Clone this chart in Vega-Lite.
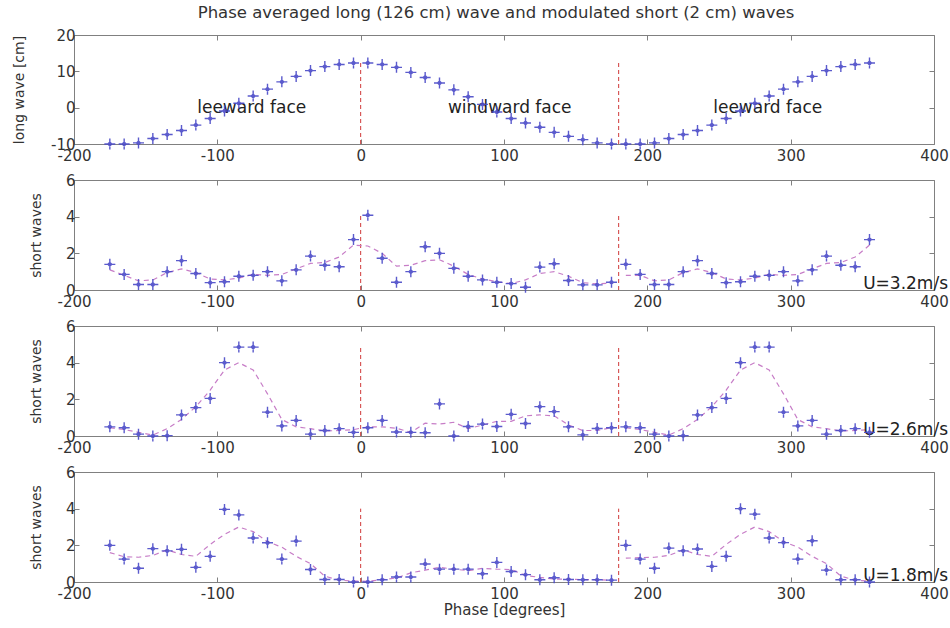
{
  "$schema": "https://vega.github.io/schema/vega-lite/v6.json",
  "padding": {"left": 12, "top": 4, "right": 4, "bottom": 4},
  "background": "white",
  "spacing": 36,
  "bounds": "flush",
  "config": {
    "view": {"stroke": "#808080", "strokeWidth": 1},
    "axis": {"domain": false, "grid": false, "ticks": true, "tickSize": -5, "tickColor": "#808080", "tickWidth": 1,
      "labelFont": "DejaVu Sans", "labelFontSize": 15, "labelColor": "#333333", "labelPadding": 4,
      "titleFont": "DejaVu Sans", "titleFontSize": 14, "titleFontWeight": "normal", "titleColor": "#333333", "titlePadding": 22},
    "axisX": {"labelPadding": 9},
    "text": {"font": "DejaVu Sans"}
  },
  "datasets": {
    "long": [
      {"p":-175,"v":-10},{"p":-165,"v":-10},{"p":-155,"v":-9.7},{"p":-145,"v":-8.5},{"p":-135,"v":-7.4},{"p":-125,"v":-6.3},{"p":-115,"v":-4.8},{"p":-105,"v":-3.0},{"p":-95,"v":-0.9},{"p":-85,"v":1.2},{"p":-75,"v":3.2},{"p":-65,"v":5.1},{"p":-55,"v":7.1},{"p":-45,"v":8.6},{"p":-35,"v":10.2},{"p":-25,"v":11.3},{"p":-15,"v":11.9},{"p":-5,"v":12.3},
      {"p":5,"v":12.3},{"p":15,"v":11.9},{"p":25,"v":11.1},{"p":35,"v":9.7},{"p":45,"v":8.3},{"p":55,"v":6.8},{"p":65,"v":4.9},{"p":75,"v":3.0},{"p":85,"v":0.9},{"p":95,"v":-1.2},{"p":105,"v":-3.0},{"p":115,"v":-4.2},{"p":125,"v":-5.4},{"p":135,"v":-6.8},{"p":145,"v":-7.9},{"p":155,"v":-8.8},{"p":165,"v":-9.7},{"p":175,"v":-10},
      {"p":185,"v":-10},{"p":195,"v":-10},{"p":205,"v":-9.7},{"p":215,"v":-8.5},{"p":225,"v":-7.4},{"p":235,"v":-6.3},{"p":245,"v":-4.8},{"p":255,"v":-3.0},{"p":265,"v":-0.9},{"p":275,"v":1.2},{"p":285,"v":3.2},{"p":295,"v":5.1},{"p":305,"v":7.1},{"p":315,"v":8.6},{"p":325,"v":10.2},{"p":335,"v":11.3},{"p":345,"v":11.9},{"p":355,"v":12.3}
    ],
    "short": [
      {"u":"2","p":-175,"v":1.4,"s":1.1,"g":"a"},{"u":"2","p":-165,"v":0.85,"s":0.8,"g":"a"},{"u":"2","p":-155,"v":0.3,"s":0.5,"g":"a"},{"u":"2","p":-145,"v":0.3,"s":0.55,"g":"a"},{"u":"2","p":-135,"v":1.0,"s":0.95,"g":"a"},{"u":"2","p":-125,"v":1.6,"s":1.15,"g":"a"},{"u":"2","p":-115,"v":0.9,"s":0.95,"g":"a"},{"u":"2","p":-105,"v":0.4,"s":0.6,"g":"a"},{"u":"2","p":-95,"v":0.45,"s":0.55,"g":"a"},{"u":"2","p":-85,"v":0.75,"s":0.65,"g":"a"},{"u":"2","p":-75,"v":0.8,"s":0.85,"g":"a"},{"u":"2","p":-65,"v":1.0,"s":0.8,"g":"a"},{"u":"2","p":-55,"v":0.5,"s":0.85,"g":"a"},{"u":"2","p":-45,"v":1.1,"s":1.15,"g":"a"},{"u":"2","p":-35,"v":1.85,"s":1.45,"g":"a"},{"u":"2","p":-25,"v":1.35,"s":1.5,"g":"a"},{"u":"2","p":-15,"v":1.27,"s":1.8,"g":"a"},{"u":"2","p":-5,"v":2.75,"s":2.45,"g":"a"},
      {"u":"2","p":5,"v":4.08,"s":2.4,"g":"a"},{"u":"2","p":15,"v":1.73,"s":2.0,"g":"a"},{"u":"2","p":25,"v":0.42,"s":1.3,"g":"a"},{"u":"2","p":35,"v":1.0,"s":1.35,"g":"a"},{"u":"2","p":45,"v":2.36,"s":1.6,"g":"a"},{"u":"2","p":55,"v":2.0,"s":1.65,"g":"a"},{"u":"2","p":65,"v":1.18,"s":1.3,"g":"a"},{"u":"2","p":75,"v":0.75,"s":0.85,"g":"a"},{"u":"2","p":85,"v":0.55,"s":0.6,"g":"a"},{"u":"2","p":95,"v":0.42,"s":0.45,"g":"a"},{"u":"2","p":105,"v":0.35,"s":0.35,"g":"a"},{"u":"2","p":115,"v":0.15,"s":0.55,"g":"a"},{"u":"2","p":125,"v":1.25,"s":0.9,"g":"a"},{"u":"2","p":135,"v":1.43,"s":1.0,"g":"a"},{"u":"2","p":145,"v":0.52,"s":0.75,"g":"a"},{"u":"2","p":155,"v":0.28,"s":0.4,"g":"a"},{"u":"2","p":165,"v":0.28,"s":0.33,"g":"a"},{"u":"2","p":175,"v":0.42,"s":0.38,"g":"a"},
      {"u":"2","p":185,"v":1.4,"s":0.8,"g":"b"},{"u":"2","p":195,"v":0.85,"s":0.8,"g":"b"},{"u":"2","p":205,"v":0.3,"s":0.5,"g":"b"},{"u":"2","p":215,"v":0.3,"s":0.55,"g":"b"},{"u":"2","p":225,"v":1.0,"s":0.95,"g":"b"},{"u":"2","p":235,"v":1.6,"s":1.15,"g":"b"},{"u":"2","p":245,"v":0.9,"s":0.95,"g":"b"},{"u":"2","p":255,"v":0.4,"s":0.6,"g":"b"},{"u":"2","p":265,"v":0.45,"s":0.55,"g":"b"},{"u":"2","p":275,"v":0.75,"s":0.65,"g":"b"},{"u":"2","p":285,"v":0.8,"s":0.85,"g":"b"},{"u":"2","p":295,"v":1.0,"s":0.8,"g":"b"},{"u":"2","p":305,"v":0.5,"s":0.85,"g":"b"},{"u":"2","p":315,"v":1.1,"s":1.15,"g":"b"},{"u":"2","p":325,"v":1.85,"s":1.45,"g":"b"},{"u":"2","p":335,"v":1.35,"s":1.5,"g":"b"},{"u":"2","p":345,"v":1.27,"s":1.8,"g":"b"},{"u":"2","p":355,"v":2.75,"s":2.45,"g":"b"},

      {"u":"3","p":-175,"v":0.5,"s":0.45,"g":"a"},{"u":"3","p":-165,"v":0.45,"s":0.35,"g":"a"},{"u":"3","p":-155,"v":0.1,"s":0.2,"g":"a"},{"u":"3","p":-145,"v":0.0,"s":0.05,"g":"a"},{"u":"3","p":-135,"v":0.02,"s":0.4,"g":"a"},{"u":"3","p":-125,"v":1.15,"s":0.9,"g":"a"},{"u":"3","p":-115,"v":1.55,"s":1.6,"g":"a"},{"u":"3","p":-105,"v":2.05,"s":2.5,"g":"a"},{"u":"3","p":-95,"v":4.0,"s":3.6,"g":"a"},{"u":"3","p":-85,"v":4.85,"s":4.0,"g":"a"},{"u":"3","p":-75,"v":4.85,"s":3.6,"g":"a"},{"u":"3","p":-65,"v":1.3,"s":2.3,"g":"a"},{"u":"3","p":-55,"v":0.55,"s":0.9,"g":"a"},{"u":"3","p":-45,"v":0.85,"s":0.5,"g":"a"},{"u":"3","p":-35,"v":0.1,"s":0.4,"g":"a"},{"u":"3","p":-25,"v":0.3,"s":0.27,"g":"a"},{"u":"3","p":-15,"v":0.4,"s":0.3,"g":"a"},{"u":"3","p":-5,"v":0.2,"s":0.35,"g":"a"},
      {"u":"3","p":5,"v":0.45,"s":0.5,"g":"a"},{"u":"3","p":15,"v":0.85,"s":0.5,"g":"a"},{"u":"3","p":25,"v":0.22,"s":0.42,"g":"a"},{"u":"3","p":35,"v":0.2,"s":0.2,"g":"a"},{"u":"3","p":45,"v":0.18,"s":0.7,"g":"a"},{"u":"3","p":55,"v":1.75,"s":0.65,"g":"a"},{"u":"3","p":65,"v":0.0,"s":0.75,"g":"a"},{"u":"3","p":75,"v":0.52,"s":0.4,"g":"a"},{"u":"3","p":85,"v":0.65,"s":0.6,"g":"a"},{"u":"3","p":95,"v":0.52,"s":0.8,"g":"a"},{"u":"3","p":105,"v":1.18,"s":0.8,"g":"a"},{"u":"3","p":115,"v":0.68,"s":1.1,"g":"a"},{"u":"3","p":125,"v":1.6,"s":1.15,"g":"a"},{"u":"3","p":135,"v":1.33,"s":1.1,"g":"a"},{"u":"3","p":145,"v":0.5,"s":0.6,"g":"a"},{"u":"3","p":155,"v":0.06,"s":0.3,"g":"a"},{"u":"3","p":165,"v":0.41,"s":0.3,"g":"a"},{"u":"3","p":175,"v":0.45,"s":0.45,"g":"a"},
      {"u":"3","p":185,"v":0.5,"s":0.45,"g":"b"},{"u":"3","p":195,"v":0.45,"s":0.35,"g":"b"},{"u":"3","p":205,"v":0.1,"s":0.2,"g":"b"},{"u":"3","p":215,"v":0.0,"s":0.05,"g":"b"},{"u":"3","p":225,"v":0.02,"s":0.4,"g":"b"},{"u":"3","p":235,"v":1.15,"s":0.9,"g":"b"},{"u":"3","p":245,"v":1.55,"s":1.6,"g":"b"},{"u":"3","p":255,"v":2.05,"s":2.5,"g":"b"},{"u":"3","p":265,"v":4.0,"s":3.6,"g":"b"},{"u":"3","p":275,"v":4.85,"s":4.0,"g":"b"},{"u":"3","p":285,"v":4.85,"s":3.6,"g":"b"},{"u":"3","p":295,"v":1.3,"s":2.3,"g":"b"},{"u":"3","p":305,"v":0.55,"s":0.9,"g":"b"},{"u":"3","p":315,"v":0.85,"s":0.5,"g":"b"},{"u":"3","p":325,"v":0.1,"s":0.4,"g":"b"},{"u":"3","p":335,"v":0.3,"s":0.27,"g":"b"},{"u":"3","p":345,"v":0.4,"s":0.3,"g":"b"},{"u":"3","p":355,"v":0.2,"s":0.35,"g":"b"},

      {"u":"4","p":-175,"v":2.0,"s":1.6,"g":"a"},{"u":"4","p":-165,"v":1.25,"s":1.38,"g":"a"},{"u":"4","p":-155,"v":0.75,"s":1.35,"g":"a"},{"u":"4","p":-145,"v":1.82,"s":1.45,"g":"a"},{"u":"4","p":-135,"v":1.7,"s":1.75,"g":"a"},{"u":"4","p":-125,"v":1.78,"s":1.5,"g":"a"},{"u":"4","p":-115,"v":0.8,"s":1.4,"g":"a"},{"u":"4","p":-105,"v":1.4,"s":2.05,"g":"a"},{"u":"4","p":-95,"v":3.96,"s":2.6,"g":"a"},{"u":"4","p":-85,"v":3.66,"s":3.0,"g":"a"},{"u":"4","p":-75,"v":2.4,"s":2.75,"g":"a"},{"u":"4","p":-65,"v":2.14,"s":2.2,"g":"a"},{"u":"4","p":-55,"v":1.25,"s":1.9,"g":"a"},{"u":"4","p":-45,"v":2.23,"s":1.4,"g":"a"},{"u":"4","p":-35,"v":0.68,"s":1.0,"g":"a"},{"u":"4","p":-25,"v":0.14,"s":0.32,"g":"a"},{"u":"4","p":-15,"v":0.14,"s":0.1,"g":"a"},{"u":"4","p":-5,"v":0.0,"s":0.05,"g":"a"},
      {"u":"4","p":5,"v":0.0,"s":0.04,"g":"a"},{"u":"4","p":15,"v":0.12,"s":0.13,"g":"a"},{"u":"4","p":25,"v":0.27,"s":0.22,"g":"a"},{"u":"4","p":35,"v":0.27,"s":0.5,"g":"a"},{"u":"4","p":45,"v":0.98,"s":0.65,"g":"a"},{"u":"4","p":55,"v":0.7,"s":0.8,"g":"a"},{"u":"4","p":65,"v":0.7,"s":0.7,"g":"a"},{"u":"4","p":75,"v":0.7,"s":0.62,"g":"a"},{"u":"4","p":85,"v":0.45,"s":0.74,"g":"a"},{"u":"4","p":95,"v":1.07,"s":0.7,"g":"a"},{"u":"4","p":105,"v":0.57,"s":0.68,"g":"a"},{"u":"4","p":115,"v":0.4,"s":0.36,"g":"a"},{"u":"4","p":125,"v":0.12,"s":0.25,"g":"a"},{"u":"4","p":135,"v":0.23,"s":0.16,"g":"a"},{"u":"4","p":145,"v":0.14,"s":0.16,"g":"a"},{"u":"4","p":155,"v":0.12,"s":0.13,"g":"a"},{"u":"4","p":165,"v":0.12,"s":0.12,"g":"a"},{"u":"4","p":175,"v":0.1,"s":0.1,"g":"a"},
      {"u":"4","p":185,"v":2.0,"s":1.3,"g":"b"},{"u":"4","p":195,"v":1.25,"s":1.33,"g":"b"},{"u":"4","p":205,"v":0.75,"s":1.35,"g":"b"},{"u":"4","p":215,"v":1.85,"s":1.45,"g":"b"},{"u":"4","p":225,"v":1.7,"s":1.75,"g":"b"},{"u":"4","p":235,"v":1.8,"s":1.5,"g":"b"},{"u":"4","p":245,"v":0.85,"s":1.4,"g":"b"},{"u":"4","p":255,"v":1.4,"s":2.05,"g":"b"},{"u":"4","p":265,"v":4.0,"s":2.6,"g":"b"},{"u":"4","p":275,"v":3.7,"s":3.0,"g":"b"},{"u":"4","p":285,"v":2.4,"s":2.75,"g":"b"},{"u":"4","p":295,"v":2.15,"s":2.2,"g":"b"},{"u":"4","p":305,"v":1.25,"s":1.9,"g":"b"},{"u":"4","p":315,"v":2.25,"s":1.4,"g":"b"},{"u":"4","p":325,"v":0.65,"s":1.0,"g":"b"},{"u":"4","p":335,"v":0.12,"s":0.32,"g":"b"},{"u":"4","p":345,"v":0.12,"s":0.1,"g":"b"},{"u":"4","p":355,"v":0.0,"s":0.05,"g":"b"}
    ],
    "vlines": [
      {"k":"1","p":0,"a":-10,"b":12.5},{"k":"1","p":180,"a":-10,"b":12.5},
      {"k":"2","p":0,"a":0,"b":4.1},{"k":"2","p":180,"a":0,"b":4.1},
      {"k":"3","p":0,"a":0,"b":4.85},{"k":"3","p":180,"a":0,"b":4.85},
      {"k":"4","p":0,"a":0,"b":4.0},{"k":"4","p":180,"a":0,"b":4.0}
    ],
    "faces": [
      {"p":-76,"v":0,"t":"leeward face"},{"p":104,"v":0,"t":"windward face"},{"p":284,"v":0,"t":"leeward face"}
    ],
    "speeds": [
      {"k":"2","t":"U=3.2m/s"},{"k":"3","t":"U=2.6m/s"},{"k":"4","t":"U=1.8m/s"}
    ]
  },
  "vconcat": [
    {
      "width": 860, "height": 109,
      "title": {"text": "Phase averaged long (126 cm) wave and modulated short (2 cm) waves", "font": "DejaVu Sans", "fontSize": 16.5, "fontWeight": "normal", "color": "#333333", "anchor": "middle", "frame": "group", "offset": 7, "dx": -8},
      "layer": [
        {"data": {"name": "vlines"}, "transform": [{"filter": "datum.k === '1'"}],
         "mark": {"type": "rule", "stroke": "#d03a3a", "strokeDash": [4, 3], "strokeWidth": 1},
         "encoding": {
           "x": {"field": "p", "type": "quantitative", "scale": {"domain": [-200, 400], "nice": false, "zero": false}, "axis": {"orient": "top", "values": [-200,-100,0,100,200,300,400], "labels": false, "title": null}},
           "y": {"field": "a", "type": "quantitative", "scale": {"domain": [-10, 20], "nice": false, "zero": false}, "axis": {"orient": "right", "values": [-10,0,10,20], "labels": false, "title": null}},
           "y2": {"field": "b"}}},
        {"data": {"name": "faces"},
         "mark": {"type": "text", "fontSize": 17, "color": "#222222", "align": "center", "baseline": "middle"},
         "encoding": {
           "x": {"field": "p", "type": "quantitative", "axis": null},
           "y": {"field": "v", "type": "quantitative", "axis": null},
           "text": {"field": "t"}}},
        {"data": {"name": "long"},
         "mark": {"type": "point", "shape": "M-1,0L1,0M0,-1L0,1M-0.35,0L0,-0.35L0.35,0L0,0.35Z", "size": 121, "filled": true, "fill": "#4a4ac8", "stroke": "#4a4ac8", "strokeWidth": 1.4, "opacity": 0.9},
         "encoding": {
           "x": {"field": "p", "type": "quantitative", "axis": {"orient": "bottom", "values": [-200,-100,0,100,200,300,400], "labelFlush": false, "title": null, "labelExpr": "replace(datum.label, '\u2212', '-')"}},
           "y": {"field": "v", "type": "quantitative", "axis": {"orient": "left", "values": [-10,0,10,20], "title": "long wave [cm]", "titlePadding": 24, "labelExpr": "replace(datum.label, '\u2212', '-')"}}}}
      ],
      "resolve": {"axis": {"x": "independent", "y": "independent"}}
    },
    {
      "width": 860, "height": 110,
      "layer": [
        {"data": {"name": "vlines"}, "transform": [{"filter": "datum.k === '2'"}],
         "mark": {"type": "rule", "stroke": "#d03a3a", "strokeDash": [4, 3], "strokeWidth": 1},
         "encoding": {
           "x": {"field": "p", "type": "quantitative", "scale": {"domain": [-200, 400], "nice": false, "zero": false}, "axis": {"orient": "top", "values": [-200,-100,0,100,200,300,400], "labels": false, "title": null}},
           "y": {"field": "a", "type": "quantitative", "scale": {"domain": [0, 6], "nice": false}, "axis": {"orient": "right", "values": [0,2,4,6], "labels": false, "title": null}},
           "y2": {"field": "b"}}},
        {"data": {"name": "short"}, "transform": [{"filter": "datum.u === '2'"}],
         "mark": {"type": "line", "stroke": "#c77dc7", "strokeDash": [5, 4], "strokeWidth": 1.2},
         "encoding": {
           "x": {"field": "p", "type": "quantitative", "axis": null},
           "y": {"field": "s", "type": "quantitative", "axis": null},
           "detail": {"field": "g"}}},
        {"data": {"name": "speeds"}, "transform": [{"filter": "datum.k === '2'"}],
         "mark": {"type": "text", "fontSize": 17, "color": "#222222", "align": "right", "baseline": "alphabetic", "dx": 14, "dy": -1},
         "encoding": {
           "x": {"datum": 400, "type": "quantitative", "axis": null},
           "y": {"datum": 0, "type": "quantitative", "axis": null},
           "text": {"field": "t"}}},
        {"data": {"name": "short"}, "transform": [{"filter": "datum.u === '2'"}],
         "mark": {"type": "point", "shape": "M-1,0L1,0M0,-1L0,1M-0.35,0L0,-0.35L0.35,0L0,0.35Z", "size": 121, "filled": true, "fill": "#4a4ac8", "stroke": "#4a4ac8", "strokeWidth": 1.4, "opacity": 0.9},
         "encoding": {
           "x": {"field": "p", "type": "quantitative", "axis": {"orient": "bottom", "values": [-200,-100,0,100,200,300,400], "labelFlush": false, "title": null, "labelExpr": "replace(datum.label, '\u2212', '-')"}},
           "y": {"field": "v", "type": "quantitative", "axis": {"orient": "left", "values": [0,2,4,6], "title": "short waves"}}}}
      ],
      "resolve": {"axis": {"x": "independent", "y": "independent"}}
    },
    {
      "width": 860, "height": 110,
      "layer": [
        {"data": {"name": "vlines"}, "transform": [{"filter": "datum.k === '3'"}],
         "mark": {"type": "rule", "stroke": "#d03a3a", "strokeDash": [4, 3], "strokeWidth": 1},
         "encoding": {
           "x": {"field": "p", "type": "quantitative", "scale": {"domain": [-200, 400], "nice": false, "zero": false}, "axis": {"orient": "top", "values": [-200,-100,0,100,200,300,400], "labels": false, "title": null}},
           "y": {"field": "a", "type": "quantitative", "scale": {"domain": [0, 6], "nice": false}, "axis": {"orient": "right", "values": [0,2,4,6], "labels": false, "title": null}},
           "y2": {"field": "b"}}},
        {"data": {"name": "short"}, "transform": [{"filter": "datum.u === '3'"}],
         "mark": {"type": "line", "stroke": "#c77dc7", "strokeDash": [5, 4], "strokeWidth": 1.2},
         "encoding": {
           "x": {"field": "p", "type": "quantitative", "axis": null},
           "y": {"field": "s", "type": "quantitative", "axis": null},
           "detail": {"field": "g"}}},
        {"data": {"name": "speeds"}, "transform": [{"filter": "datum.k === '3'"}],
         "mark": {"type": "text", "fontSize": 17, "color": "#222222", "align": "right", "baseline": "alphabetic", "dx": 14, "dy": -1},
         "encoding": {
           "x": {"datum": 400, "type": "quantitative", "axis": null},
           "y": {"datum": 0, "type": "quantitative", "axis": null},
           "text": {"field": "t"}}},
        {"data": {"name": "short"}, "transform": [{"filter": "datum.u === '3'"}],
         "mark": {"type": "point", "shape": "M-1,0L1,0M0,-1L0,1M-0.35,0L0,-0.35L0.35,0L0,0.35Z", "size": 121, "filled": true, "fill": "#4a4ac8", "stroke": "#4a4ac8", "strokeWidth": 1.4, "opacity": 0.9},
         "encoding": {
           "x": {"field": "p", "type": "quantitative", "axis": {"orient": "bottom", "values": [-200,-100,0,100,200,300,400], "labelFlush": false, "title": null, "labelExpr": "replace(datum.label, '\u2212', '-')"}},
           "y": {"field": "v", "type": "quantitative", "axis": {"orient": "left", "values": [0,2,4,6], "title": "short waves"}}}}
      ],
      "resolve": {"axis": {"x": "independent", "y": "independent"}}
    },
    {
      "width": 860, "height": 110,
      "layer": [
        {"data": {"name": "vlines"}, "transform": [{"filter": "datum.k === '4'"}],
         "mark": {"type": "rule", "stroke": "#d03a3a", "strokeDash": [4, 3], "strokeWidth": 1},
         "encoding": {
           "x": {"field": "p", "type": "quantitative", "scale": {"domain": [-200, 400], "nice": false, "zero": false}, "axis": {"orient": "top", "values": [-200,-100,0,100,200,300,400], "labels": false, "title": null}},
           "y": {"field": "a", "type": "quantitative", "scale": {"domain": [0, 6], "nice": false}, "axis": {"orient": "right", "values": [0,2,4,6], "labels": false, "title": null}},
           "y2": {"field": "b"}}},
        {"data": {"name": "short"}, "transform": [{"filter": "datum.u === '4'"}],
         "mark": {"type": "line", "stroke": "#c77dc7", "strokeDash": [5, 4], "strokeWidth": 1.2},
         "encoding": {
           "x": {"field": "p", "type": "quantitative", "axis": null},
           "y": {"field": "s", "type": "quantitative", "axis": null},
           "detail": {"field": "g"}}},
        {"data": {"name": "speeds"}, "transform": [{"filter": "datum.k === '4'"}],
         "mark": {"type": "text", "fontSize": 17, "color": "#222222", "align": "right", "baseline": "alphabetic", "dx": 14, "dy": -1},
         "encoding": {
           "x": {"datum": 400, "type": "quantitative", "axis": null},
           "y": {"datum": 0, "type": "quantitative", "axis": null},
           "text": {"field": "t"}}},
        {"data": {"name": "short"}, "transform": [{"filter": "datum.u === '4'"}],
         "mark": {"type": "point", "shape": "M-1,0L1,0M0,-1L0,1M-0.35,0L0,-0.35L0.35,0L0,0.35Z", "size": 121, "filled": true, "fill": "#4a4ac8", "stroke": "#4a4ac8", "strokeWidth": 1.4, "opacity": 0.9},
         "encoding": {
           "x": {"field": "p", "type": "quantitative", "axis": {"orient": "bottom", "values": [-200,-100,0,100,200,300,400], "labelFlush": false, "title": "Phase [degrees]", "titleFontSize": 15, "titlePadding": 1, "labelExpr": "replace(datum.label, '\u2212', '-')"}},
           "y": {"field": "v", "type": "quantitative", "axis": {"orient": "left", "values": [0,2,4,6], "title": "short waves"}}}}
      ],
      "resolve": {"axis": {"x": "independent", "y": "independent"}}
    }
  ]
}
